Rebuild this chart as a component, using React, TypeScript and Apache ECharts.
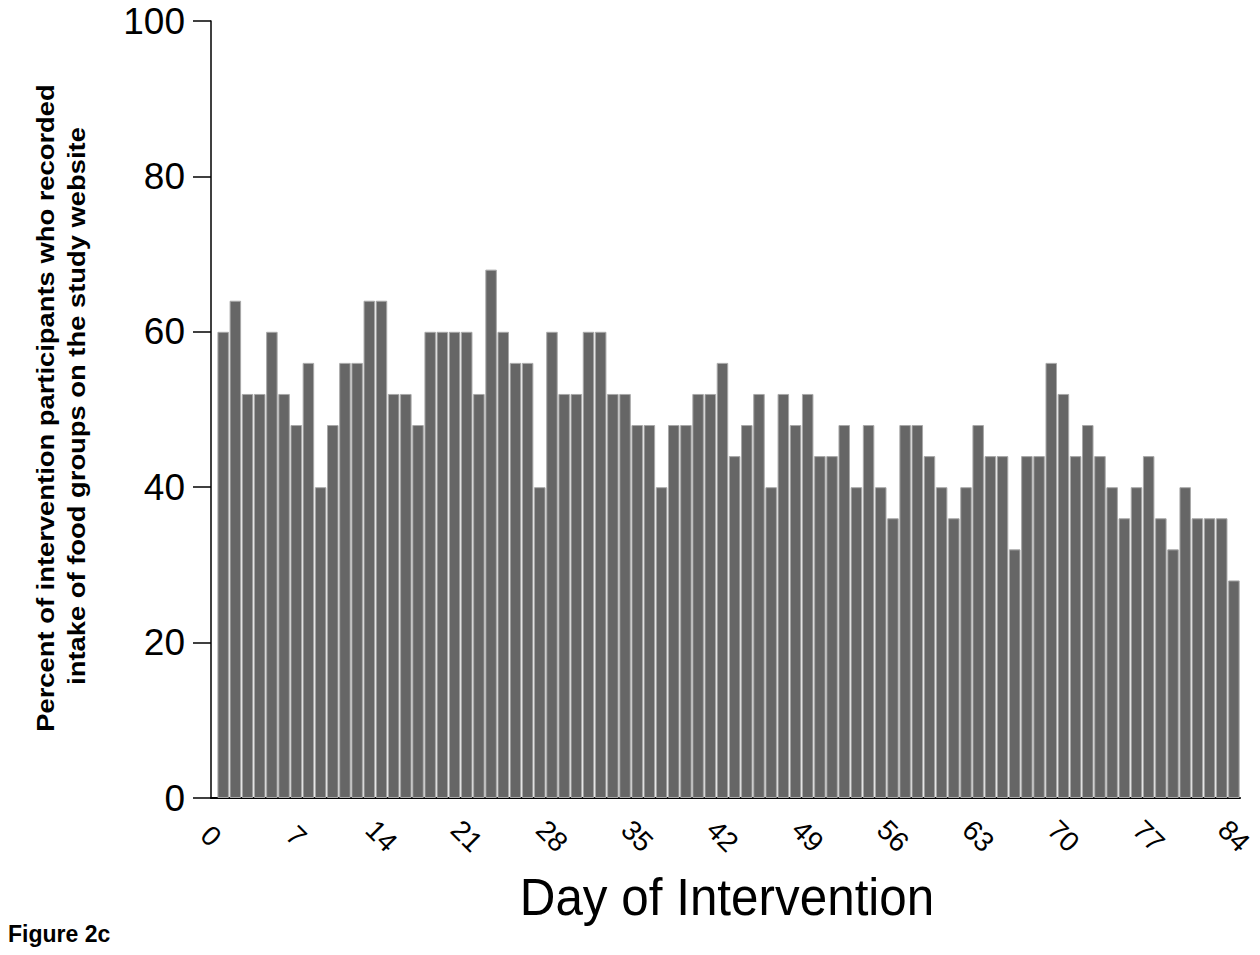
import React, { useEffect, useRef } from "react";
import * as echarts from "echarts";

const days: number[] = [
  1, 2, 3, 4, 5, 6, 7, 8, 9, 10, 11, 12, 13, 14, 15, 16, 17, 18, 19, 20, 21,
  22, 23, 24, 25, 26, 27, 28, 29, 30, 31, 32, 33, 34, 35, 36, 37, 38, 39, 40, 41, 42,
  43, 44, 45, 46, 47, 48, 49, 50, 51, 52, 53, 54, 55, 56, 57, 58, 59, 60, 61, 62, 63,
  64, 65, 66, 67, 68, 69, 70, 71, 72, 73, 74, 75, 76, 77, 78, 79, 80, 81, 82, 83, 84,
];

const percents: number[] = [
  60, 64, 52, 52, 60, 52, 48, 56, 40, 48, 56, 56, 64, 64, 52, 52, 48, 60, 60, 60, 60,
  52, 68, 60, 56, 56, 40, 60, 52, 52, 60, 60, 52, 52, 48, 48, 40, 48, 48, 52, 52, 56,
  44, 48, 52, 40, 52, 48, 52, 44, 44, 48, 40, 48, 40, 36, 48, 48, 44, 40, 36, 40, 48,
  44, 44, 32, 44, 44, 56, 52, 44, 48, 44, 40, 36, 40, 44, 36, 32, 40, 36, 36, 36, 28,
];

const xTicks: number[] = [0, 7, 14, 21, 28, 35, 42, 49, 56, 63, 70, 77, 84];
const yTicks: number[] = [0, 20, 40, 60, 80, 100];

const yTitleLines: string[] = [
  "Percent of intervention participants who recorded",
  "intake of food groups on the study website",
];
const xTitle = "Day of Intervention";
const figureLabel = "Figure 2c";

export default function App() {
  const ref = useRef<HTMLDivElement>(null);

  useEffect(() => {
    if (!ref.current) return;
    const chart = echarts.init(ref.current, undefined, { renderer: "svg" });
    const font = "'Liberation Sans', Arial, sans-serif";
    chart.setOption({
      animation: false,
      backgroundColor: "#ffffff",
      grid: { left: 211, right: 20, top: 21, bottom: 157, containLabel: false },
      xAxis: {
        type: "value",
        min: 0,
        max: 84.5,
        interval: 7,
        splitLine: { show: false },
        axisLine: { show: true, lineStyle: { color: "#000", width: 2 } },
        axisTick: { show: false },
        axisLabel: {
          rotate: -45,
          align: "center",
          verticalAlign: "middle",
          margin: 38,
          fontSize: 28,
          fontFamily: font,
          color: "#000",
          showMaxLabel: true,
          formatter: (v: number) => (xTicks.indexOf(v) >= 0 ? String(v) : ""),
        },
      },
      yAxis: {
        type: "value",
        min: 0,
        max: 100,
        interval: 20,
        splitLine: { show: false },
        axisLine: { show: true, lineStyle: { color: "#000", width: 1.5 } },
        axisTick: { show: true, length: 18, lineStyle: { color: "#000", width: 1.5 } },
        axisLabel: {
          margin: 26,
          fontSize: 37,
          lineHeight: 30,
          fontFamily: font,
          color: "#000",
          formatter: (v: number) => (yTicks.indexOf(v) >= 0 ? String(v) : ""),
        },
      },
      series: [
        {
          type: "bar",
          data: days.map((d, i) => [d, percents[i]]),
          barWidth: 11.5,
          itemStyle: { color: "#666666", borderColor: "#a8a8a8", borderWidth: 1 },
          clip: false,
        },
      ],
      graphic: [
        {
          type: "text",
          x: 46,
          y: 408,
          rotation: Math.PI / 2,
          scaleX: 1.19,
          style: {
            text: yTitleLines[0],
            fontSize: 23,
            fontWeight: "bold",
            fontFamily: font,
            fill: "#000",
            align: "center",
            verticalAlign: "middle",
          },
        },
        {
          type: "text",
          x: 77,
          y: 406,
          rotation: Math.PI / 2,
          scaleX: 1.19,
          style: {
            text: yTitleLines[1],
            fontSize: 23,
            fontWeight: "bold",
            fontFamily: font,
            fill: "#000",
            align: "center",
            verticalAlign: "middle",
          },
        },
        {
          type: "text",
          x: 727,
          y: 897,
          scaleX: 0.95,
          style: {
            text: xTitle,
            fontSize: 52,
            fontFamily: font,
            fill: "#000",
            align: "center",
            verticalAlign: "middle",
          },
        },
        {
          type: "text",
          x: 8,
          y: 934,
          style: {
            text: figureLabel,
            fontSize: 23,
            fontWeight: "bold",
            fontFamily: font,
            fill: "#000",
            align: "left",
            verticalAlign: "middle",
          },
        },
      ],
    });
    return () => chart.dispose();
  }, []);

  return (
    <div
      ref={ref}
      style={{ position: "absolute", left: 0, top: 0, width: 1260, height: 955 }}
    />
  );
}
